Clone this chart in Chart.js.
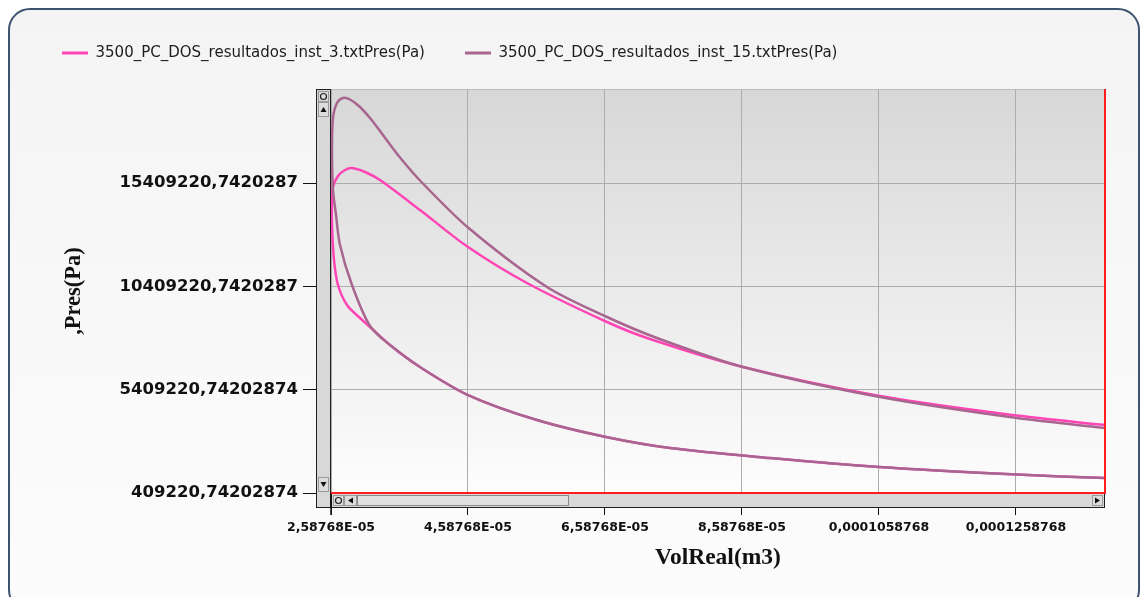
<!DOCTYPE html>
<html>
<head>
<meta charset="utf-8">
<script src="https://cdn.jsdelivr.net/npm/chart.js@4.4.1/dist/chart.umd.min.js"></script>
<style>
    body { margin: 0; background: #ffffff; }
    #panel {
        position: absolute; left: 8px; top: 8px; width: 1128px; height: 600px;
        border: 2px solid #3d5470; border-radius: 22px;
        background: linear-gradient(#f4f4f4, #fcfcfc);
    }
    #chart { position: absolute; left: 0; top: 0; }
</style>
</head>
<body>
<div id="panel"></div>
<canvas id="chart" width="1142" height="597"></canvas>
<script>
// series labels
const seriesNames = ['3500_PC_DOS_resultados_inst_3.txtPres(Pa)', '3500_PC_DOS_resultados_inst_15.txtPres(Pa)'];

// inst_3 loop: compression (right to left), then combustion + expansion (left to right)
const vol3 = [13.887e-5, 12.603e-5, 10.588e-5, 8.997e-5, 7.537e-5, 6.603e-5, 5.595e-5, 4.588e-5, 3.887e-5, 3.449e-5,
    3.157e-5, 3.011e-5, 2.821e-5, 2.690e-5, 2.632e-5, 2.602e-5, 2.602e-5, 2.617e-5, 2.690e-5, 2.792e-5,
    2.894e-5, 3.084e-5, 3.303e-5, 3.887e-5, 4.588e-5, 5.449e-5, 6.617e-5, 7.245e-5, 8.603e-5, 10.602e-5,
    12.603e-5, 13.887e-5];
const pres3 = [1.135e6, 1.30e6, 1.667e6, 2.103e6, 2.587e6, 3.120e6, 3.942e6, 5.152e6, 6.508e6, 7.573e6,
    8.444e6, 8.880e6, 9.509e6, 10.477e6, 11.687e6, 13.381e6, 14.591e6, 15.220e6, 15.753e6, 16.043e6,
    16.140e6, 15.946e6, 15.559e6, 14.107e6, 12.316e6, 10.574e6, 8.686e6, 7.863e6, 6.508e6, 5.104e6,
    4.155e6, 3.700e6];

// inst_15 loop
const vol15 = [13.887e-5, 12.603e-5, 10.588e-5, 8.997e-5, 7.537e-5, 6.603e-5, 5.595e-5, 4.588e-5, 3.887e-5, 3.449e-5,
    3.157e-5, 2.894e-5, 2.719e-5, 2.661e-5, 2.617e-5, 2.602e-5, 2.617e-5, 2.675e-5, 2.763e-5, 2.865e-5,
    3.011e-5, 3.157e-5, 3.303e-5, 3.449e-5, 3.595e-5, 3.887e-5, 4.588e-5, 5.741e-5, 6.617e-5, 7.347e-5,
    8.603e-5, 10.602e-5, 12.603e-5, 13.887e-5];
const pres15 = [1.135e6, 1.30e6, 1.667e6, 2.103e6, 2.587e6, 3.120e6, 3.942e6, 5.152e6, 6.508e6, 7.573e6,
    8.492e6, 10.477e6, 12.413e6, 13.865e6, 15.075e6, 17.011e6, 18.560e6, 19.286e6, 19.528e6, 19.456e6,
    19.093e6, 18.560e6, 17.931e6, 17.277e6, 16.648e6, 15.535e6, 13.260e6, 10.380e6, 8.928e6, 7.911e6,
    6.508e6, 5.056e6, 4.038e6, 3.560e6];

// axis ticks as shown
const xTicks = [2.58768e-5, 4.58768e-5, 6.58768e-5, 8.58768e-5, 1.058768e-4, 1.258768e-4];
const xTickLabels = ['2,58768E-05', '4,58768E-05', '6,58768E-05', '8,58768E-05', '0,0001058768', '0,0001258768'];
const yTicks = [409220.74202874, 5409220.74202874, 10409220.7420287, 15409220.7420287];
const yTickLabels = ['409220,74202874', '5409220,74202874', '10409220,7420287', '15409220,7420287'];
const xMin = 2.58768e-5, xMax = 1.3888e-4;
const yMin = 409220.74202874, yMax = 1.9964e7;

const pink = '#ff45b5';
const mauve = '#a8658f';

function toPoints(xs, ys) {
    return xs.map((x, i) => ({x: x, y: ys[i]}));
}

// plot background, red edges and the fake scrollbars
const plotDecor = {
    id: 'plotDecor',
    beforeDraw(chart) {
        const ctx = chart.ctx, a = chart.chartArea;
        const g = ctx.createLinearGradient(0, a.top, 0, a.bottom);
        g.addColorStop(0, '#d7d7d7');
        g.addColorStop(1, '#fdfdfd');
        ctx.save();
        ctx.fillStyle = g;
        ctx.fillRect(a.left, a.top, a.right - a.left, a.bottom - a.top);
        ctx.strokeStyle = '#bdbdbd';
        ctx.lineWidth = 1;
        ctx.beginPath();
        ctx.moveTo(a.left, a.top + 0.5);
        ctx.lineTo(a.right, a.top + 0.5);
        ctx.stroke();
        ctx.restore();
    },
    afterDraw(chart) {
        const ctx = chart.ctx, a = chart.chartArea;
        const L = Math.round(a.left), R = Math.round(a.right), T = Math.round(a.top), B = Math.round(a.bottom);
        ctx.save();

        function box(x, y, w, h, fill, stroke) {
            ctx.fillStyle = fill;
            ctx.fillRect(x, y, w, h);
            if (stroke) {
                ctx.strokeStyle = stroke;
                ctx.lineWidth = 1;
                ctx.strokeRect(x + 0.5, y + 0.5, w - 1, h - 1);
            }
        }
        function tri(points) {
            ctx.fillStyle = '#111';
            ctx.beginPath();
            ctx.moveTo(points[0], points[1]);
            ctx.lineTo(points[2], points[3]);
            ctx.lineTo(points[4], points[5]);
            ctx.closePath();
            ctx.fill();
        }
        function ring(x, y) {
            ctx.strokeStyle = '#222';
            ctx.lineWidth = 1.2;
            ctx.beginPath();
            ctx.arc(x, y, 3, 0, Math.PI * 2);
            ctx.stroke();
        }

        // vertical bar
        box(L - 15, T, 15, B - T + 15, '#d8d8d8', '#1e1e1e');
        box(L - 13, T + 2, 11, 11, '#dcdcdc', '#9a9a9a');
        ring(L - 7.5, T + 7.5);
        box(L - 13, T + 13, 11, 15, '#dcdcdc', '#9a9a9a');
        tri([L - 10.5, T + 23, L - 4.5, T + 23, L - 7.5, T + 18]);
        box(L - 13, B - 16, 11, 15, '#dcdcdc', '#9a9a9a');
        tri([L - 10.5, B - 11, L - 4.5, B - 11, L - 7.5, B - 6]);

        // horizontal bar
        box(L, B, R - L, 15, '#d8d8d8', '#1e1e1e');
        box(L + 2, B + 2, 11, 11, '#dcdcdc', '#9a9a9a');
        ring(L + 7.5, B + 7.5);
        box(L + 13, B + 2, 13, 11, '#dcdcdc', '#9a9a9a');
        tri([L + 22, B + 4.5, L + 22, B + 10.5, L + 17, B + 7.5]);
        box(L + 26, B + 2, 212, 11, '#e0e0e0', '#8a8a8a');
        box(R - 13, B + 2, 11, 11, '#dcdcdc', '#9a9a9a');
        tri([R - 10, B + 4.5, R - 10, B + 10.5, R - 5, B + 7.5]);

        // axis corner line at the first x tick
        ctx.strokeStyle = '#111';
        ctx.lineWidth = 1.5;
        ctx.beginPath();
        ctx.moveTo(L, B);
        ctx.lineTo(L, B + 22);
        ctx.stroke();

        // red edges
        ctx.strokeStyle = '#ff1e1e';
        ctx.lineWidth = 2;
        ctx.beginPath();
        ctx.moveTo(R, T);
        ctx.lineTo(R, B);
        ctx.lineTo(L, B);
        ctx.stroke();
        ctx.restore();
    }
};

window.addEventListener('load', function () {
    let ctx = document.getElementById('chart').getContext('2d');
    new Chart(ctx, {
        type: 'scatter',
        data: {
            datasets: [{
                label: seriesNames[0],
                data: toPoints(vol3, pres3),
                borderColor: pink,
                backgroundColor: pink,
                borderWidth: 2.5,
                showLine: true,
                pointRadius: 0,
                tension: 0.3,
                order: 2
            }, {
                label: seriesNames[1],
                data: toPoints(vol15, pres15),
                borderColor: mauve,
                backgroundColor: mauve,
                borderWidth: 2.5,
                showLine: true,
                pointRadius: 0,
                tension: 0.3,
                order: 1
            }]
        },
        options: {
            responsive: false,
            animation: false,
            devicePixelRatio: 1,
            layout: { padding: { left: 22, top: 5.5, right: 37, bottom: 0 } },
            plugins: {
                tooltip: { enabled: false },
                title: {
                    // empty spacer between legend and plot
                    display: true, text: '', padding: 0, weight: 500,
                    font: { size: 18.5, lineHeight: 1 }
                },
                legend: {
                    position: 'top',
                    align: 'start',
                    labels: {
                        boxWidth: 26,
                        boxHeight: 3,
                        padding: 40,
                        color: '#1c1c1c',
                        font: { family: 'DejaVu Sans', size: 15 },
                        sort: (a, b) => a.datasetIndex - b.datasetIndex,
                        generateLabels(chart) {
                            return Chart.defaults.plugins.legend.labels.generateLabels(chart)
                                .map(l => Object.assign(l, { lineWidth: 0 }));
                        }
                    }
                }
            },
            scales: {
                x: {
                    type: 'linear',
                    min: xMin,
                    max: xMax,
                    afterBuildTicks: (s) => { s.ticks = xTicks.map(v => ({ value: v })); },
                    afterFit: (s) => { s.height = 104; },
                    border: { display: false },
                    grid: { color: '#acacac', tickColor: '#111', tickLength: 22, lineWidth: 1 },
                    ticks: {
                        autoSkip: false, maxRotation: 0, padding: 5, color: '#111',
                        font: { family: 'DejaVu Sans', size: 12.5, weight: 'bold' },
                        callback: (v, i) => xTickLabels[i]
                    },
                    title: {
                        display: true, text: 'VolReal(m3)', color: '#111',
                        font: { family: 'Liberation Serif', size: 23.5, weight: 'bold' },
                        padding: { top: 0, bottom: 25 }
                    }
                },
                y: {
                    type: 'linear',
                    min: yMin,
                    max: yMax,
                    afterBuildTicks: (s) => { s.ticks = yTicks.map(v => ({ value: v })); },
                    afterFit: (s) => { s.width = 309; },
                    border: { display: false },
                    grid: { color: '#acacac', tickColor: '#111', tickLength: 28, lineWidth: 1 },
                    ticks: {
                        autoSkip: false, padding: 5, color: '#111',
                        font: { family: 'DejaVu Sans', size: 16.5, weight: 'bold' },
                        callback: (v, i) => yTickLabels[i]
                    },
                    title: {
                        display: true, text: ',Pres(Pa)', color: '#111',
                        font: { family: 'Liberation Serif', size: 22.5, weight: 'bold' },
                        padding: { top: 38.5, bottom: 0 }
                    }
                }
            }
        },
        plugins: [plotDecor]
    });
});
</script>
</body>
</html>
